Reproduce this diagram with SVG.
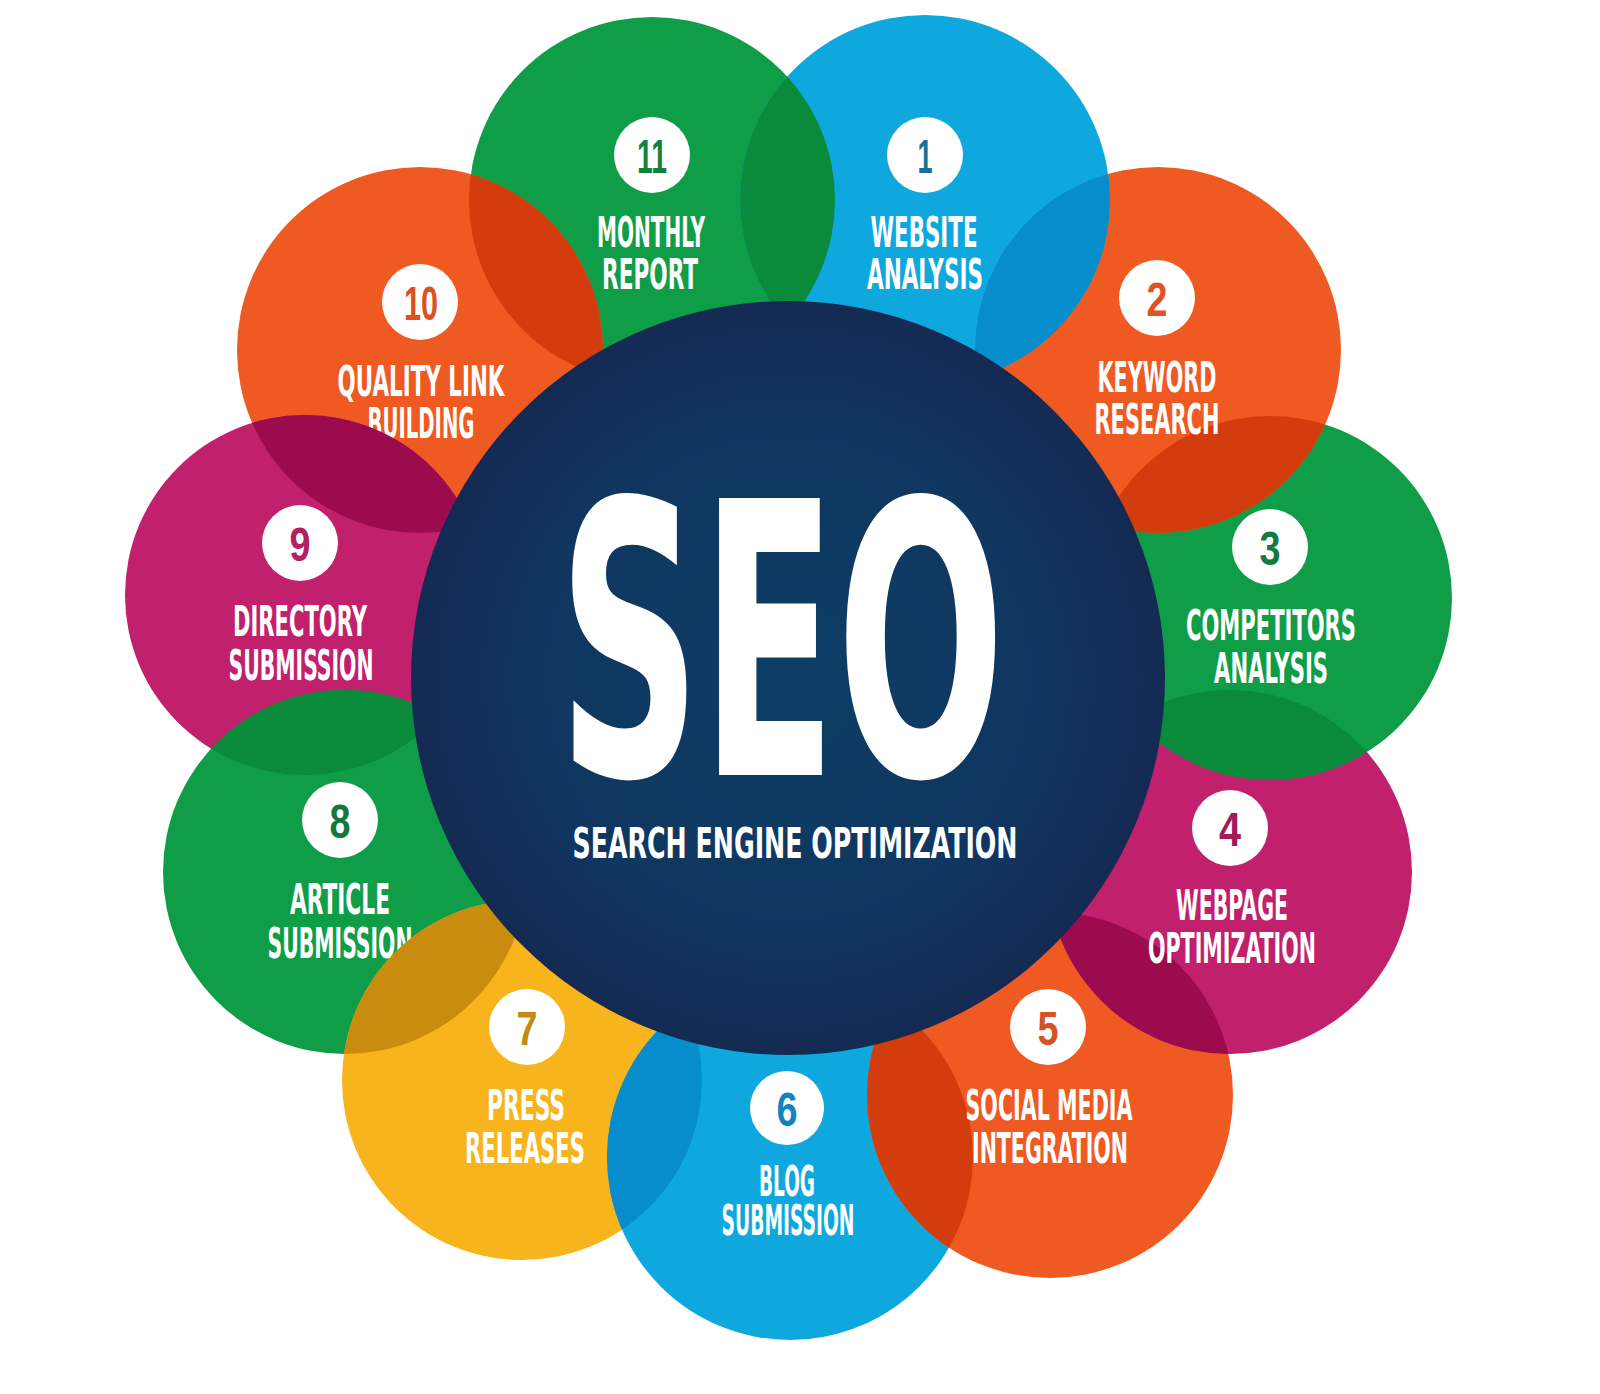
<svg xmlns="http://www.w3.org/2000/svg" width="1600" height="1394" viewBox="0 0 1600 1394">
<defs>
<style>
.lbl{font-family:'DejaVu Sans Condensed','Liberation Sans',sans-serif;font-weight:bold;font-size:42px;fill:#ffffff;text-anchor:middle}
.num{font-family:'Liberation Sans','DejaVu Sans',sans-serif;font-weight:bold;font-size:48px;text-anchor:middle}
.badge{fill:#ffffff}
.green{fill:#0f9d48}
.blue{fill:#0ea8de}
.orange{fill:#ef5a22}
.magenta{fill:#c0206c}
.yellow{fill:#f8b41c}
.dgreen{fill:#0a8a3b}
.dblue{fill:#078dcb}
.dorange{fill:#d33c0c}
.dmagenta{fill:#9d0b4f}
.dyellow{fill:#c98c0e}
</style>
<radialGradient id="navy" cx="0.5" cy="0.5" r="0.5">
<stop offset="0" stop-color="#0d3e65"/>
<stop offset="0.7" stop-color="#103660"/>
<stop offset="1" stop-color="#142a52"/>
</radialGradient>
<clipPath id="c1"><circle cx="925" cy="200" r="185"/></clipPath>
<clipPath id="c2"><circle cx="1158" cy="350" r="183"/></clipPath>
<clipPath id="c3"><circle cx="1270" cy="598" r="182"/></clipPath>
<clipPath id="c4"><circle cx="1230" cy="872" r="182"/></clipPath>
<clipPath id="c5"><circle cx="1050" cy="1095" r="183"/></clipPath>
<clipPath id="c6"><circle cx="790" cy="1157" r="183"/></clipPath>
<clipPath id="c7"><circle cx="522" cy="1080" r="180"/></clipPath>
<clipPath id="c8"><circle cx="345" cy="872" r="182"/></clipPath>
<clipPath id="c9"><circle cx="305" cy="595" r="180"/></clipPath>
<clipPath id="c10"><circle cx="420" cy="350" r="183"/></clipPath>
<clipPath id="c11"><circle cx="652" cy="200" r="183"/></clipPath>
</defs>
<rect width="1600" height="1394" fill="#ffffff"/>
<g id="connectors"/>

<g id="node-11">
<circle class="green" cx="652" cy="200" r="183"/>
<circle class="badge" cx="652" cy="155" r="38"/>
<text class="num" x="652" y="173" fill="#14823c" textLength="30" lengthAdjust="spacingAndGlyphs">11</text>
<text class="lbl" x="651" y="247" textLength="108" lengthAdjust="spacingAndGlyphs">MONTHLY</text>
<text class="lbl" x="650" y="289" textLength="96" lengthAdjust="spacingAndGlyphs">REPORT</text>
</g>

<g id="node-10">
<circle class="orange" cx="420" cy="350" r="183"/>
<circle class="dorange" cx="420" cy="350" r="183" clip-path="url(#c11)"/>
<circle class="badge" cx="420" cy="302" r="38"/>
<text class="num" x="421" y="320" fill="#d9531f" textLength="34" lengthAdjust="spacingAndGlyphs">10</text>
<text class="lbl" x="421" y="396" textLength="167" lengthAdjust="spacingAndGlyphs">QUALITY LINK</text>
<text class="lbl" x="421" y="438" textLength="107" lengthAdjust="spacingAndGlyphs">BUILDING</text>
</g>

<g id="node-9">
<circle class="magenta" cx="305" cy="595" r="180"/>
<circle class="dmagenta" cx="305" cy="595" r="180" clip-path="url(#c10)"/>
<circle class="badge" cx="300" cy="543" r="38"/>
<text class="num" x="300" y="561" fill="#b2205f" textLength="21" lengthAdjust="spacingAndGlyphs">9</text>
<text class="lbl" x="300" y="636" textLength="134" lengthAdjust="spacingAndGlyphs">DIRECTORY</text>
<text class="lbl" x="301" y="680" textLength="145" lengthAdjust="spacingAndGlyphs">SUBMISSION</text>
</g>

<g id="node-8">
<circle class="green" cx="345" cy="872" r="182"/>
<circle class="dgreen" cx="345" cy="872" r="182" clip-path="url(#c9)"/>
<circle class="badge" cx="340" cy="820" r="38"/>
<text class="num" x="340" y="838" fill="#117a3a" textLength="21" lengthAdjust="spacingAndGlyphs">8</text>
<text class="lbl" x="340" y="914" textLength="100" lengthAdjust="spacingAndGlyphs">ARTICLE</text>
<text class="lbl" x="340" y="958" textLength="145" lengthAdjust="spacingAndGlyphs">SUBMISSION</text>
</g>

<g id="node-7">
<circle class="yellow" cx="522" cy="1080" r="180"/>
<circle class="dyellow" cx="522" cy="1080" r="180" clip-path="url(#c8)"/>
<circle class="badge" cx="527" cy="1027" r="38"/>
<text class="num" x="527" y="1045" fill="#c48a12" textLength="21" lengthAdjust="spacingAndGlyphs">7</text>
<text class="lbl" x="526" y="1120" textLength="78" lengthAdjust="spacingAndGlyphs">PRESS</text>
<text class="lbl" x="525" y="1163" textLength="120" lengthAdjust="spacingAndGlyphs">RELEASES</text>
</g>

<g id="node-6">
<circle class="blue" cx="790" cy="1157" r="183"/>
<circle class="dblue" cx="790" cy="1157" r="183" clip-path="url(#c7)"/>
<circle class="badge" cx="787" cy="1108" r="37"/>
<text class="num" x="787" y="1126" fill="#1382c0" textLength="21" lengthAdjust="spacingAndGlyphs">6</text>
<text class="lbl" x="787" y="1196" textLength="56" lengthAdjust="spacingAndGlyphs">BLOG</text>
<text class="lbl" x="788" y="1235" textLength="133" lengthAdjust="spacingAndGlyphs">SUBMISSION</text>
</g>

<g id="node-5">
<circle class="orange" cx="1050" cy="1095" r="183"/>
<circle class="dorange" cx="1050" cy="1095" r="183" clip-path="url(#c6)"/>
<circle class="badge" cx="1048" cy="1027" r="38"/>
<text class="num" x="1048" y="1045" fill="#d65220" textLength="21" lengthAdjust="spacingAndGlyphs">5</text>
<text class="lbl" x="1049" y="1120" textLength="167" lengthAdjust="spacingAndGlyphs">SOCIAL MEDIA</text>
<text class="lbl" x="1050" y="1163" textLength="156" lengthAdjust="spacingAndGlyphs">INTEGRATION</text>
</g>

<g id="node-4">
<circle class="magenta" cx="1230" cy="872" r="182"/>
<circle class="dmagenta" cx="1230" cy="872" r="182" clip-path="url(#c5)"/>
<circle class="badge" cx="1230" cy="828" r="38"/>
<text class="num" x="1230" y="846" fill="#a11b5c" textLength="22" lengthAdjust="spacingAndGlyphs">4</text>
<text class="lbl" x="1232" y="920" textLength="112" lengthAdjust="spacingAndGlyphs">WEBPAGE</text>
<text class="lbl" x="1232" y="963" textLength="168" lengthAdjust="spacingAndGlyphs">OPTIMIZATION</text>
</g>

<g id="node-3">
<circle class="green" cx="1270" cy="598" r="182"/>
<circle class="dgreen" cx="1270" cy="598" r="182" clip-path="url(#c4)"/>
<circle class="badge" cx="1270" cy="547" r="38"/>
<text class="num" x="1270" y="565" fill="#137a40" textLength="21" lengthAdjust="spacingAndGlyphs">3</text>
<text class="lbl" x="1271" y="640" textLength="170" lengthAdjust="spacingAndGlyphs">COMPETITORS</text>
<text class="lbl" x="1271" y="683" textLength="114" lengthAdjust="spacingAndGlyphs">ANALYSIS</text>
</g>

<g id="node-2">
<circle class="orange" cx="1158" cy="350" r="183"/>
<circle class="dorange" cx="1158" cy="350" r="183" clip-path="url(#c3)"/>
<circle class="badge" cx="1157" cy="298" r="38"/>
<text class="num" x="1157" y="316" fill="#e0531e" textLength="21" lengthAdjust="spacingAndGlyphs">2</text>
<text class="lbl" x="1157" y="392" textLength="119" lengthAdjust="spacingAndGlyphs">KEYWORD</text>
<text class="lbl" x="1157" y="434" textLength="125" lengthAdjust="spacingAndGlyphs">RESEARCH</text>
</g>

<g id="node-1">
<circle class="blue" cx="925" cy="200" r="185"/>
<circle class="dblue" cx="925" cy="200" r="185" clip-path="url(#c2)"/>
<circle class="dgreen" cx="652" cy="200" r="183" clip-path="url(#c1)"/>
<circle class="badge" cx="925" cy="155" r="38"/>
<text class="num" x="925" y="173" fill="#1a6f98" textLength="15" lengthAdjust="spacingAndGlyphs">1</text>
<text class="lbl" x="924" y="247" textLength="107" lengthAdjust="spacingAndGlyphs">WEBSITE</text>
<text class="lbl" x="925" y="289" textLength="116" lengthAdjust="spacingAndGlyphs">ANALYSIS</text>
</g>

<g id="seo-center">
<circle cx="788" cy="678" r="377" fill="url(#navy)"/>
<text x="558" y="775" font-family="'DejaVu Sans Condensed','Liberation Sans',sans-serif" font-weight="bold" font-size="380" fill="#ffffff" textLength="447" lengthAdjust="spacingAndGlyphs">SEO</text>
<text class="lbl" x="795" y="858" font-size="50" textLength="445" lengthAdjust="spacingAndGlyphs">SEARCH ENGINE OPTIMIZATION</text>
</g>
</svg>
